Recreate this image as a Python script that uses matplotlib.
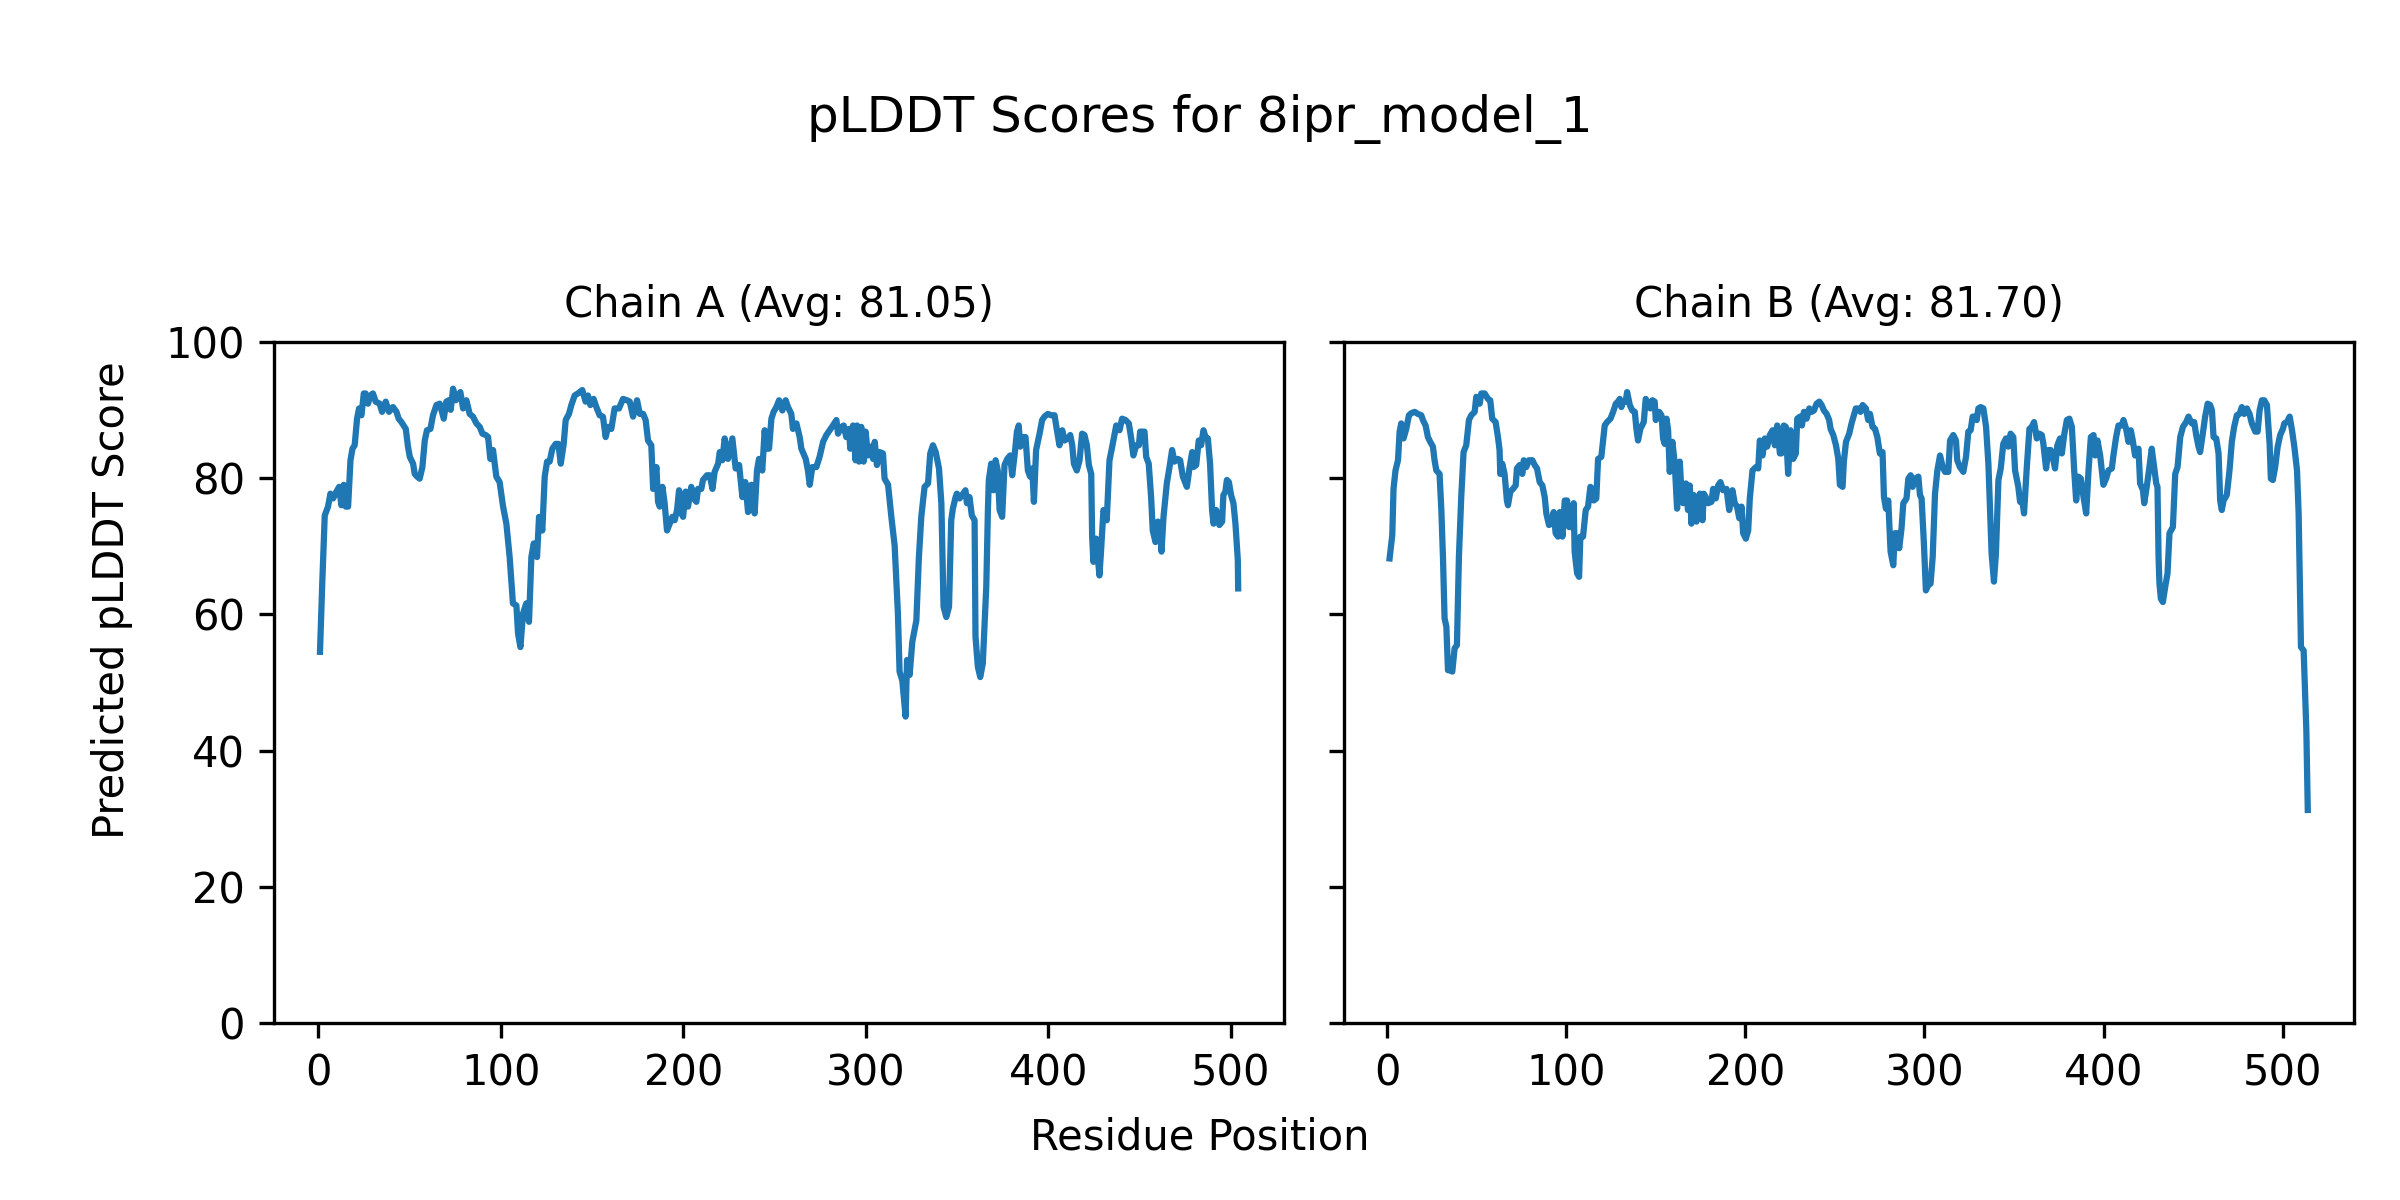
import matplotlib
matplotlib.use("Agg")
import matplotlib.pyplot as plt

# Chain A: residue positions and pLDDT values
res_a = [1, 2.3, 3.6, 5.4, 6.7, 8.2, 10, 11.5, 12.7, 14, 15.1, 16.4, 17.7, 18.8, 20,
         21.3, 22.4, 23.7, 25, 26, 27.3, 28.6, 30, 31.5, 33.7, 35, 37, 38.8, 41, 42.9,
         44.1, 45.6, 48, 49.2, 50.2, 52, 52.9, 54.2, 55.6, 57.1, 58.4, 59.6, 61.5, 62.9,
         64.8, 66.6, 68.8, 70.2, 71.5, 72.6, 73.9, 75.4, 76.6, 77.9, 79.4, 81.2, 83,
         84.8, 86.7, 88.5, 90, 91.8, 93.1, 94.3, 95.8, 97.6, 99.4, 101.3, 103.1, 104.9,
         106.7, 108.6, 109.5, 110.8, 112.2, 114, 115.5, 116.8, 118.1, 119.9, 121, 122.8,
         124.1, 125.4, 126.8, 128.3, 130.1, 131.6, 132.9, 134.5, 135.6, 137.4, 138.7,
         140.5, 142.3, 144.7, 146.5, 147.8, 149.1, 150.9, 152.4, 154.2, 156, 157.5,
         158.8, 160.6, 162.4, 164.8, 167, 169.2, 170.7, 172.5, 174.7, 176.2, 178, 179.4,
         180.7, 182.5, 183.5, 185.3, 186.2, 187.1, 188.6, 189.8, 191.1, 192.6, 194,
         195.3, 196.6, 197.7, 199, 199.9, 201.3, 202.6, 204.4, 205.7, 207.2, 208.1,
         209.9, 210.8, 213, 214.5, 216, 217.2, 219.1, 220, 221.4, 222.7, 224.5, 226.9,
         228.7, 230.6, 232.4, 234, 235.5, 237.3, 239.1, 240.4, 241.5, 243.3, 244.6,
         245.5, 247, 248.3, 249.5, 251, 252.5, 254.3, 256.1, 257.4, 259.2, 260.1, 262,
         263.8, 264.7, 267.1, 268.3, 269.3, 270.7, 272.9, 274.7, 276.6, 278.4, 280.2,
         282, 283.9, 284.8, 286.6, 287.9, 289.3, 290.8, 291.5, 293, 294.4, 295.2, 296.3,
         297.5, 298.8, 299.9, 301.2, 302.5, 304, 304.9, 306.1, 307.6, 309.4, 310.3,
         312.2, 314, 315.8, 317.6, 318.5, 320, 321.8, 322.6, 324, 325.5, 327.7, 329.1,
         330.4, 332.2, 334.1, 335.3, 336.8, 338.3, 340.1, 341.4, 342.6, 344.1, 345.6,
         346.8, 347.7, 349.2, 349.9, 351.4, 352.8, 354.6, 355.4, 356.8, 358.1, 359.6,
         360.1, 361.4, 362.7, 364.1, 366, 366.9, 367.4, 368.7, 370, 371.1, 372.3, 373.3,
         374.7, 376, 377.5, 379.1, 380.2, 381.5, 382.8, 383.8, 384.6, 386, 387.5, 388.8,
         390, 391.2, 392.1, 393.3, 395.2, 396.6, 397.9, 399.7, 401.6, 403.4, 404.7,
         406.1, 407.6, 408.9, 410.7, 412, 413.1, 414, 415.6, 417.1, 418.5, 419.8, 421.1,
         422.2, 423.5, 424, 424.7, 426.2, 428, 428.9, 430.2, 432, 433.5, 435, 437.2,
         439, 440.4, 442.3, 444.1, 445.4, 446.6, 448.1, 449.6, 450.3, 452.7, 453.6, 455,
         456.3, 457.2, 458.7, 460, 461.2, 462, 463.1, 464.9, 466.4, 467.8, 469.1, 470.9,
         472.2, 473.7, 475.9, 477.3, 478.8, 479.5, 481, 482.4, 483.7, 485, 486.1, 487.4,
         488.6, 489.7, 490.5, 491.9, 493.7, 495.2, 495.9, 497, 497.8, 498.9, 500.1,
         501.4, 502.5, 503.8, 504]
plddt_a = [54.5, 65, 74.5, 75.8, 77.7, 77, 78, 78.7, 76, 79, 75.8, 75.8, 82.6, 84.3, 84.8,
           88.7, 90.2, 89.2, 92.4, 92.4, 90.9, 92.1, 92.4, 91.2, 90.9, 89.7, 91.2, 89.7,
           90.4, 89.7, 88.7, 88.2, 87.2, 84.6, 83.1, 82.1, 80.6, 80.2, 79.9, 81.6, 85.5,
           87, 87.2, 89.2, 90.7, 90.9, 88.7, 91.2, 91.4, 90, 93.1, 91.4, 92.1, 92.6, 90.2,
           91.4, 89.4, 89, 88, 87.5, 86.5, 86.3, 86, 82.8, 84.1, 80.2, 79.4, 75.8, 73.3,
           68.4, 61.6, 61.3, 57.2, 55.2, 60.1, 61.6, 58.9, 68.4, 70.4, 68.4, 74.3, 72.3,
           80.2, 82.4, 82.4, 84.3, 85, 85, 82.1, 85, 88.5, 89.4, 90.7, 92.1, 92.4, 92.9,
           91.2, 92.1, 90.7, 91.6, 90.4, 89.2, 89, 86, 87.5, 87.2, 90.2, 90.2, 91.6, 91.4,
           91.2, 89, 91.4, 89.4, 89.4, 88.5, 85.5, 84.8, 78.4, 81.6, 76.5, 75.8, 78.7,
           76.3, 72.3, 73.3, 74.3, 73.8, 75.3, 78.2, 74.8, 74.3, 78, 75.8, 78.7, 77, 76.5,
           78.4, 78.4, 79.7, 80.4, 80.4, 78.4, 80.9, 82.1, 83.8, 82.6, 85.8, 82.8, 85.8,
           81.4, 81.9, 77.2, 79.4, 75, 79, 74.8, 81.1, 82.8, 81.1, 87, 84.3, 84.3, 88.7,
           89.7, 90.4, 91.4, 89.9, 91.4, 90.4, 89.4, 87.2, 88, 86, 84.3, 82.8, 81.1, 79,
           81.6, 81.6, 83.1, 85.3, 86.3, 87, 87.7, 88.5, 86.5, 87.5, 87.7, 86, 87.2, 84.3,
           87.7, 82.6, 87.7, 82.4, 87.5, 82.4, 86.8, 83.3, 84.6, 82.8, 85.3, 81.9, 83.8,
           83.6, 79.9, 79, 74.3, 70.1, 60.1, 51.6, 50.3, 45, 53.3, 51.1, 56, 59.1, 68.4,
           74.3, 78.7, 79.2, 83.6, 84.8, 83.8, 81.4, 76.3, 61.1, 59.6, 61.1, 73.8, 75.5,
           77.2, 77.7, 77, 77.5, 78.2, 76.3, 77.2, 74.5, 73.8, 56.7, 52.3, 50.8, 52.8, 64,
           75.3, 79.7, 82.1, 78.2, 82.6, 81.1, 75.3, 74.3, 81.9, 82.8, 83.3, 80.4, 83.3,
           86.8, 87.7, 84.6, 86, 86, 81.1, 80.2, 81.4, 76.5, 84.1, 86.5, 88.5, 89, 89.4,
           89.2, 89.2, 87, 84.8, 87, 85.5, 85.8, 86.3, 84.8, 82.1, 81.1, 82.6, 86.5, 86.3,
           84.8, 81.9, 80.6, 71.4, 67.7, 71.1, 65.7, 69.4, 75.3, 73.8, 82.6, 84.6, 87.7,
           87, 88.7, 88.5, 88, 85.8, 83.3, 84.8, 84.8, 86.8, 86.8, 83.1, 82.1, 77.2, 72.3,
           70.6, 73.6, 72.8, 69.2, 74.3, 79.2, 81.6, 84.1, 82.4, 82.8, 82.6, 80.2, 78.7,
           81.4, 83.8, 81.6, 81.9, 85.5, 84.8, 87, 86, 85.8, 82.1, 75.3, 73.3, 75.3, 73.1,
           73.6, 77.5, 78, 79.7, 79.4, 77.5, 76.3, 73.3, 68, 63.8]

# Chain B
res_b = [1.4, 2.9, 3.6, 4.7, 6.1, 7, 7.9, 9.2, 10.7, 12.2, 13.5, 15.4, 17.2, 19.1, 20,
         21.5, 22.8, 24.1, 25.6, 26.5, 27.5, 29.3, 30.3, 31.2, 32.1, 33.1, 34, 35.3,
         36.4, 37.7, 39, 40.1, 41.4, 42.7, 44.2, 45.7, 47, 48.9, 49.8, 51.7, 52.6, 54.5,
         56.3, 57.6, 58.7, 60.6, 61.9, 62.8, 63.2, 64.3, 65.6, 66.9, 67.5, 68.8, 70.3,
         71.8, 72.5, 74, 75.5, 76.3, 77.7, 79.2, 81.1, 82.4, 83.7, 85.2, 86.7, 88, 88.9,
         90.4, 91.7, 93, 94.1, 95.4, 96.4, 97.9, 99.2, 100.5, 101.6, 102.9, 104.2,
         104.7, 106.1, 107.2, 107.9, 109.4, 110.9, 112.2, 113.5, 114.6, 115.4, 116.8,
         117.8, 119.6, 121.5, 122.8, 124.7, 126.2, 127.7, 128.9, 129.9, 130.8, 131.7,
         133.2, 134, 135.5, 136.9, 138.3, 139.2, 140.1, 141.4, 143.3, 144.4, 145.7, 147,
         148.1, 149.4, 150, 151.9, 153.2, 154.1, 155, 156, 156.9, 157.8, 159.3, 160.6,
         161.9, 163.4, 164.3, 165.3, 166.8, 168, 169, 169.9, 171.2, 172.7, 174.6, 176.1,
         176.8, 177.9, 179.2, 181.1, 182, 183.5, 184.8, 186.1, 187.6, 189.5, 191, 192.8,
         194.1, 195.4, 196.6, 197.9, 198.8, 200.3, 201.6, 202.5, 204, 205.9, 207.2,
         208.1, 209.6, 210.9, 212.2, 213.7, 215.2, 216.5, 217.8, 219.3, 220.2, 221.5,
         222.6, 223.9, 225.2, 226.7, 228.2, 229, 230.5, 231.6, 232.7, 234.2, 235.7, 237,
         238.3, 239.8, 241.3, 242.6, 243.9, 245.4, 246.8, 247.6, 249.1, 250.6, 251.9,
         252.8, 254.3, 255, 256.2, 258, 259.3, 260.6, 261.7, 263, 264.3, 265.5, 267.3,
         268.6, 269.6, 271, 272.4, 273.7, 275.1, 276.6, 277.4, 278.5, 279.8, 281.1,
         282.6, 283.5, 284.8, 285.9, 287.2, 288.2, 290, 291, 292.3, 293.4, 294.7, 296.6,
         297.5, 298.4, 299.7, 300.8, 302.1, 303.4, 304.6, 305.9, 307.2, 308.7, 310.2,
         311.5, 313.3, 314.3, 316.1, 317.6, 318.3, 319.8, 321.7, 323.2, 324.5, 325.8,
         326.9, 328.2, 329.2, 330.1, 331.4, 332.9, 334.4, 335.7, 336.6, 337.5, 338.8,
         339.9, 341.3, 342.6, 344, 345.5, 346.8, 348.1, 349.6, 350.6, 352.4, 353.4,
         354.8, 355.6, 357.1, 358.6, 359.9, 361.2, 362.7, 364.2, 365.5, 366.4, 367.9,
         369.2, 370.5, 372, 372.9, 374.2, 375.7, 376.7, 378, 379.5, 380.9, 382.3, 383.6,
         384.7, 386, 387.3, 388.8, 390.3, 391.6, 392.9, 394.4, 395.3, 396.6, 398.1,
         399.9, 401.4, 402.7, 404.6, 405.5, 407, 408.3, 410.2, 411.1, 412.6, 413.9,
         415.2, 416.3, 417.6, 419.5, 420.4, 422, 422.7, 424.2, 425.6, 426.9, 428.2,
         429.4, 430.1, 430.7, 431.2, 432, 433.1, 434.4, 435.7, 436.8, 438.7, 440, 441.3,
         442.8, 444.3, 446.1, 447.4, 449.3, 450.6, 451.7, 453, 453.9, 455.4, 456.7,
         458.1, 459.5, 460.5, 461.4, 462.9, 464.2, 465.1, 466, 467, 468.8, 470.3, 471.6,
         472.9, 474.4, 475.9, 477.2, 478.5, 480, 481.5, 482.8, 484.7, 486, 487.1, 488.4,
         489.7, 491.2, 492.7, 493.4, 494.5, 495.8, 497.2, 498.6, 500.1, 500.9, 502.4,
         503.9, 505.2, 506.5, 508, 508.9, 510.2, 511.7, 513.2, 514]
plddt_b = [68.2, 71.6, 78.4, 81.1, 82.6, 86.8, 88, 85.8, 87.2, 89.2, 89.5, 89.7, 89.4,
           89.2, 88.5, 87.7, 86, 85.3, 84.6, 82.6, 81.1, 80.6, 75.3, 68.4, 59.4, 58.2,
           51.8, 51.8, 51.6, 55, 55.5, 68.4, 77.2, 83.8, 84.8, 88.5, 89.2, 89.7, 91.9,
           90.9, 92.4, 92.4, 91.6, 91.4, 88.7, 88.2, 86, 84.1, 80.6, 82.1, 80.6, 76.7, 76,
           78, 78.4, 78.9, 81.4, 81.9, 80.6, 82.6, 81.6, 82.6, 82.6, 81.9, 81.4, 79.4,
           78.9, 77.2, 74.8, 73.1, 73.3, 75, 71.9, 71.4, 75, 71.4, 76.7, 76.7, 72.8, 72.8,
           76.3, 69.2, 66, 65.5, 71.4, 71.4, 75.3, 75.8, 78.7, 78.4, 76.7, 77, 82.8, 83.1,
           87.7, 88.2, 88.7, 89.7, 90.9, 91.2, 91.6, 90.4, 91.2, 91.2, 92.6, 90.7, 89.9,
           89.7, 87.2, 85.5, 87.2, 88.2, 91.6, 90.9, 90.2, 91.4, 91.2, 88.5, 89.7, 89.2,
           85.8, 85, 88.7, 87, 80.9, 85.3, 82.1, 75.5, 82.4, 78.2, 76.3, 79.2, 75.3, 78.9,
           73.3, 77.5, 73.6, 77.7, 73.8, 77.7, 77.2, 76.3, 76.5, 78.4, 77, 78.9, 79.4,
           78.2, 78.4, 75.3, 78.2, 76.3, 75.8, 74.1, 75.8, 71.9, 71.1, 72.3, 77, 81.1,
           81.6, 81.4, 85.5, 83.3, 85.8, 84.6, 86.3, 87, 84.8, 87.7, 83.6, 83.6, 87.7,
           87.5, 80.6, 87, 82.8, 83.6, 88.7, 89, 87.7, 89.7, 88.7, 90.2, 89.7, 89.9, 90.9,
           91.2, 90.7, 89.9, 89.4, 88.5, 87.2, 86.3, 84.8, 82.8, 79, 78.7, 82.4, 85.3,
           86.5, 88, 89.2, 90.2, 90.2, 89.7, 90.7, 90.2, 88.5, 89.4, 87.5, 87.2, 86, 83.6,
           83.8, 77.2, 75.5, 76.7, 69.2, 67.2, 71.9, 71.9, 69.7, 72.6, 76.3, 77, 79.9,
           80.4, 78.7, 79.9, 80.2, 77.5, 77, 70.4, 63.5, 64.3, 64.5, 68.4, 77.7, 81.1,
           83.3, 81.6, 80.9, 80.9, 85.5, 86.3, 85.5, 82.6, 81.6, 80.9, 83.1, 86.8, 87, 89,
           89, 88.5, 90.2, 90.4, 90.2, 87.5, 82.1, 75.3, 68.9, 64.8, 68.9, 79.7, 81.4, 85,
           85.8, 84.6, 86.5, 86, 81.1, 78.7, 76.5, 76.3, 74.8, 81.4, 87.2, 87.5, 88.2,
           85.8, 86.5, 86.3, 85, 81.4, 84.1, 84.1, 82.6, 81.4, 84.8, 85.8, 83.6, 86.3,
           88.5, 88.7, 87.5, 81.1, 76.7, 80.2, 79.9, 77.2, 74.8, 81.1, 86, 86.3, 83.3,
           85.5, 83.3, 79, 79.9, 81.1, 81.4, 83.3, 86, 87.7, 87.7, 88.5, 87.2, 85.3, 87,
           85.5, 83.3, 84.3, 79.2, 78.2, 76.3, 78.9, 81.6, 84.3, 81.6, 79.2, 78.7, 68.4,
           64.5, 62.3, 61.8, 64, 66, 71.9, 72.8, 80.6, 81.6, 86, 87.5, 88.2, 89, 88, 88.2,
           86.3, 84.6, 83.8, 86.5, 89, 90.9, 90.7, 89.9, 86, 85.8, 83.6, 76.7, 75.3, 76.7,
           77.5, 81.1, 85.3, 87.5, 89.2, 89.4, 90.4, 89.4, 90.2, 89.4, 88, 86.8, 86.8,
           89.9, 91.4, 91.4, 90.7, 85, 79.9, 79.7, 81.6, 84.6, 86.3, 87.2, 88, 88.2, 89,
           87, 84.6, 81.1, 74.8, 55.2, 54.7, 43, 31.3]

avg_a = 81.05
avg_b = 81.70

fig, axes = plt.subplots(1, 2, figsize=(8, 4), dpi=300, sharey=True)
fig.subplots_adjust(left=0.1142, right=0.9807, bottom=0.1472, top=0.7153, wspace=0.059)

axes[0].plot(res_a, plddt_a)
axes[0].set_title(f"Chain A (Avg: {avg_a:.2f})", fontsize=10)
axes[1].plot(res_b, plddt_b)
axes[1].set_title(f"Chain B (Avg: {avg_b:.2f})", fontsize=10)
axes[0].set_ylim(0, 100)

fig.suptitle("pLDDT Scores for 8ipr_model_1", fontsize=12, y=0.9005, va="center")
fig.text(0.5, 0.052, "Residue Position", ha="center", va="center", fontsize=10)
fig.text(0.0466, 0.5, "Predicted pLDDT Score", ha="center", va="center",
         rotation="vertical", fontsize=10)

fig.savefig("out.png", dpi=300)
